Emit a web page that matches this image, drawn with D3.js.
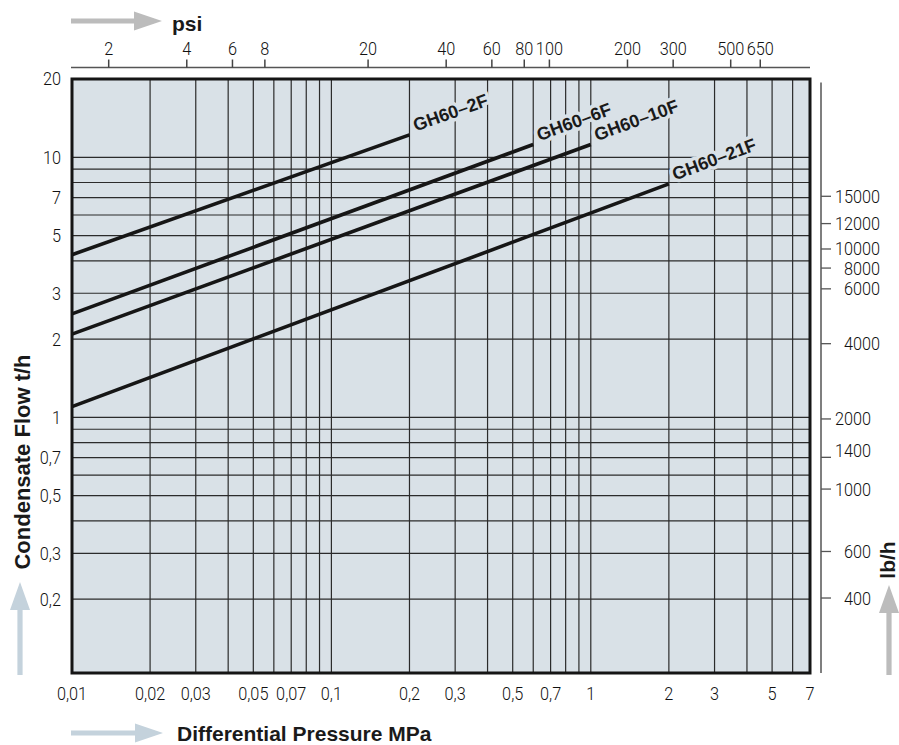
<!DOCTYPE html>
<html>
<head>
<meta charset="utf-8">
<script src="https://cdn.jsdelivr.net/npm/d3@7/dist/d3.min.js"></script>
<style>
  html, body { margin: 0; padding: 0; background: #fff; }
  svg { display: block; }
  .tick-lbl { font-family: "Roboto", "Liberation Sans", sans-serif; font-weight: 300; font-size: 18.5px; fill: #111; }
  .bold-lbl { font-family: "Liberation Sans", Arial, sans-serif; font-weight: bold; fill: #1a1a1a; }
</style>
</head>
<body>
<svg id="chart" width="899" height="745"></svg>
<script>
// ---------- data ----------
const xTickValues = [0.01, 0.02, 0.03, 0.05, 0.07, 0.1, 0.2, 0.3, 0.5, 0.7, 1, 2, 3, 5, 7];
const xTickLabels = ["0,01", "0,02", "0,03", "0,05", "0,07", "0,1", "0,2", "0,3", "0,5", "0,7", "1", "2", "3", "5", "7"];
const xGridValues = [0.02,0.03,0.04,0.05,0.06,0.07,0.08,0.09,0.1,0.2,0.3,0.4,0.5,0.6,0.7,0.8,0.9,1,2,3,4,5,6];

const yTickValues = [20, 10, 7, 5, 3, 2, 1, 0.7, 0.5, 0.3, 0.2];
const yTickLabels = ["20", "10", "7", "5", "3", "2", "1", "0,7", "0,5", "0,3", "0,2"];
const yGridValues = [0.2,0.3,0.4,0.5,0.6,0.7,0.8,0.9,1,2,3,4,5,6,7,8,9,10];

const psiTickValues = [2, 4, 6, 8, 20, 40, 60, 80, 100, 200, 300, 500, 650];
const psiPerMPa = 145.038;

const lbTickLabels = ["15000","12000","10000","8000","6000","4000","2000","1400","1000","600","400"];
const lbTickAt     = [7.08, 5.56, 4.44, 3.75, 3.12, 1.92, 0.986, 0.702, 0.530, 0.305, 0.202]; // t/h positions
const lbLabelAt    = [7.08, 5.56, 4.44, 3.75, 3.12, 1.92, 0.986, 0.745, 0.530, 0.305, 0.202];

const seriesNames = ["GH60–2F", "GH60–6F", "GH60–10F", "GH60–21F"];
const seriesPressure = [[0.01, 0.2], [0.01, 0.6], [0.01, 1], [0.01, 2]];      // MPa
const seriesFlow     = [[4.22, 12.2], [2.5, 11.2], [2.09, 11.2], [1.1, 7.9]]; // t/h

// ---------- layout ----------
const svg = d3.select("#chart");
const x = d3.scaleLog().domain([0.01, 7]).range([72, 810]);
const y = d3.scaleLog().domain([0.104, 20]).range([673, 79]);
const X0 = x.range()[0], X1 = x.range()[1], Y0 = y.range()[1], Y1 = y.range()[0];
const BG = "#d9e1e7";
const SX = 0.88; // horizontal condensing of the light tick font

// plot background
svg.append("rect").attr("x", X0).attr("y", Y0).attr("width", X1 - X0).attr("height", Y1 - Y0).attr("fill", BG);

// grid
const grid = svg.append("g").attr("stroke", "#2b2b2b").attr("stroke-width", 1.2);
grid.selectAll("line.v").data(xGridValues).join("line")
  .attr("x1", d => x(d)).attr("x2", d => x(d)).attr("y1", Y0).attr("y2", Y1);
grid.selectAll("line.h").data(yGridValues).join("line")
  .attr("y1", d => y(d)).attr("y2", d => y(d)).attr("x1", X0).attr("x2", X1);

// series lines
const lineGen = d3.line().x(d => x(d[0])).y(d => y(d[1]));
seriesNames.forEach((name, i) => {
  const pts = seriesPressure[i].map((p, j) => [p, seriesFlow[i][j]]);
  svg.append("path").attr("d", lineGen(pts)).attr("fill", "none")
    .attr("stroke", "#161616").attr("stroke-width", 3.6);
  const xa = x(pts[0][0]), ya = y(pts[0][1]), xb = x(pts[1][0]), yb = y(pts[1][1]);
  const ang = Math.atan2(yb - ya, xb - xa);
  const gap = 7;
  const tx = xb + gap * Math.cos(ang), ty = yb + gap * Math.sin(ang);
  svg.append("text").attr("class", "bold-lbl")
    .attr("transform", `translate(${tx},${ty}) rotate(${ang * 180 / Math.PI})`)
    .attr("dy", -1)
    .style("font-size", "18px")
    .attr("stroke", BG).attr("stroke-width", 7).attr("stroke-linejoin", "round")
    .attr("paint-order", "stroke")
    .text(name);
});

// border
svg.append("rect").attr("x", X0).attr("y", Y0).attr("width", X1 - X0).attr("height", Y1 - Y0)
  .attr("fill", "none").attr("stroke", "#151515").attr("stroke-width", 3);

// bottom tick labels
svg.append("g").selectAll("text").data(xTickValues).join("text")
  .attr("class", "tick-lbl")
  .attr("transform", d => `translate(${x(d)},700) scale(${SX},1)`)
  .attr("text-anchor", "middle")
  .text((d, i) => xTickLabels[i]);

// left tick labels
svg.append("g").selectAll("text").data(yTickValues).join("text")
  .attr("class", "tick-lbl")
  .attr("transform", d => `translate(61,${y(d)}) scale(${SX},1)`)
  .attr("dy", "0.35em").attr("text-anchor", "end")
  .text((d, i) => yTickLabels[i]);

// top psi axis
const psiAxis = d3.axisTop(x).tickValues(psiTickValues.map(p => p / psiPerMPa))
  .tickSize(8).tickSizeOuter(0).tickPadding(5)
  .tickFormat((d, i) => String(psiTickValues[i]));
const gTop = svg.append("g").attr("transform", "translate(0,67.5)").call(psiAxis);
gTop.attr("font-family", null).attr("font-size", null);
gTop.select(".domain").attr("stroke", "#555").attr("stroke-width", 1.5).attr("d", `M${X0 - 1},0H${X1}`);
gTop.selectAll(".tick line").attr("stroke", "#444").attr("stroke-width", 1.5);
gTop.selectAll(".tick text").attr("class", "tick-lbl").attr("fill", "#111")
  .attr("transform", `scale(${SX},1)`);

// right lb/h axis
const gR = svg.append("g");
gR.append("line").attr("x1", 821).attr("x2", 821).attr("y1", 82.5).attr("y2", Y1).attr("stroke", "#555").attr("stroke-width", 1.5);
gR.selectAll("line.t").data(lbTickAt).join("line")
  .attr("x1", 821).attr("x2", 831).attr("y1", d => y(d)).attr("y2", d => y(d))
  .attr("stroke", "#555").attr("stroke-width", 1.3);
gR.selectAll("text").data(lbLabelAt).join("text")
  .attr("class", "tick-lbl")
  .attr("transform", (d, i) => `translate(${lbTickAt[i] >= 1.5 ? 880 : 871},${y(d)}) scale(${SX},1)`)
  .attr("dy", "0.35em").attr("text-anchor", "end")
  .text((d, i) => lbTickLabels[i]);

// arrows
function hArrow(x0, x1, yc, color) {
  const head = 28, hw = 9.5, sw = 2.6;
  svg.append("path").attr("fill", color)
    .attr("d", `M${x0},${yc - sw}H${x1 - head}V${yc - hw}L${x1},${yc}L${x1 - head},${yc + hw}V${yc + sw}H${x0}Z`);
}
function vArrow(xc, y0, y1, color) { // from bottom y0 up to tip y1
  const head = 28, hw = 10, sw = 2.6;
  svg.append("path").attr("fill", color)
    .attr("d", `M${xc - sw},${y0}V${y1 + head}H${xc - hw}L${xc},${y1}L${xc + hw},${y1 + head}H${xc + sw}V${y0}Z`);
}
const GREY = "#bcbcbc", BLUE = "#c4d2dc";
hArrow(71, 162, 21, GREY);
hArrow(71, 163, 733, BLUE);
vArrow(20, 675, 582, BLUE);
vArrow(889, 675, 585, GREY);

// axis titles
svg.append("text").attr("class", "bold-lbl").attr("x", 172).attr("y", 31).style("font-size", "21px").text("psi");
svg.append("text").attr("class", "bold-lbl").attr("x", 177).attr("y", 741).style("font-size", "21px").text("Differential Pressure MPa");
svg.append("text").attr("class", "bold-lbl").attr("transform", "translate(30,462) rotate(-90)")
  .attr("text-anchor", "middle").style("font-size", "22px").text("Condensate Flow t/h");
svg.append("text").attr("class", "bold-lbl").attr("transform", "translate(895,560) rotate(-90)")
  .attr("text-anchor", "middle").style("font-size", "21px").text("lb/h");
</script>
</body>
</html>
